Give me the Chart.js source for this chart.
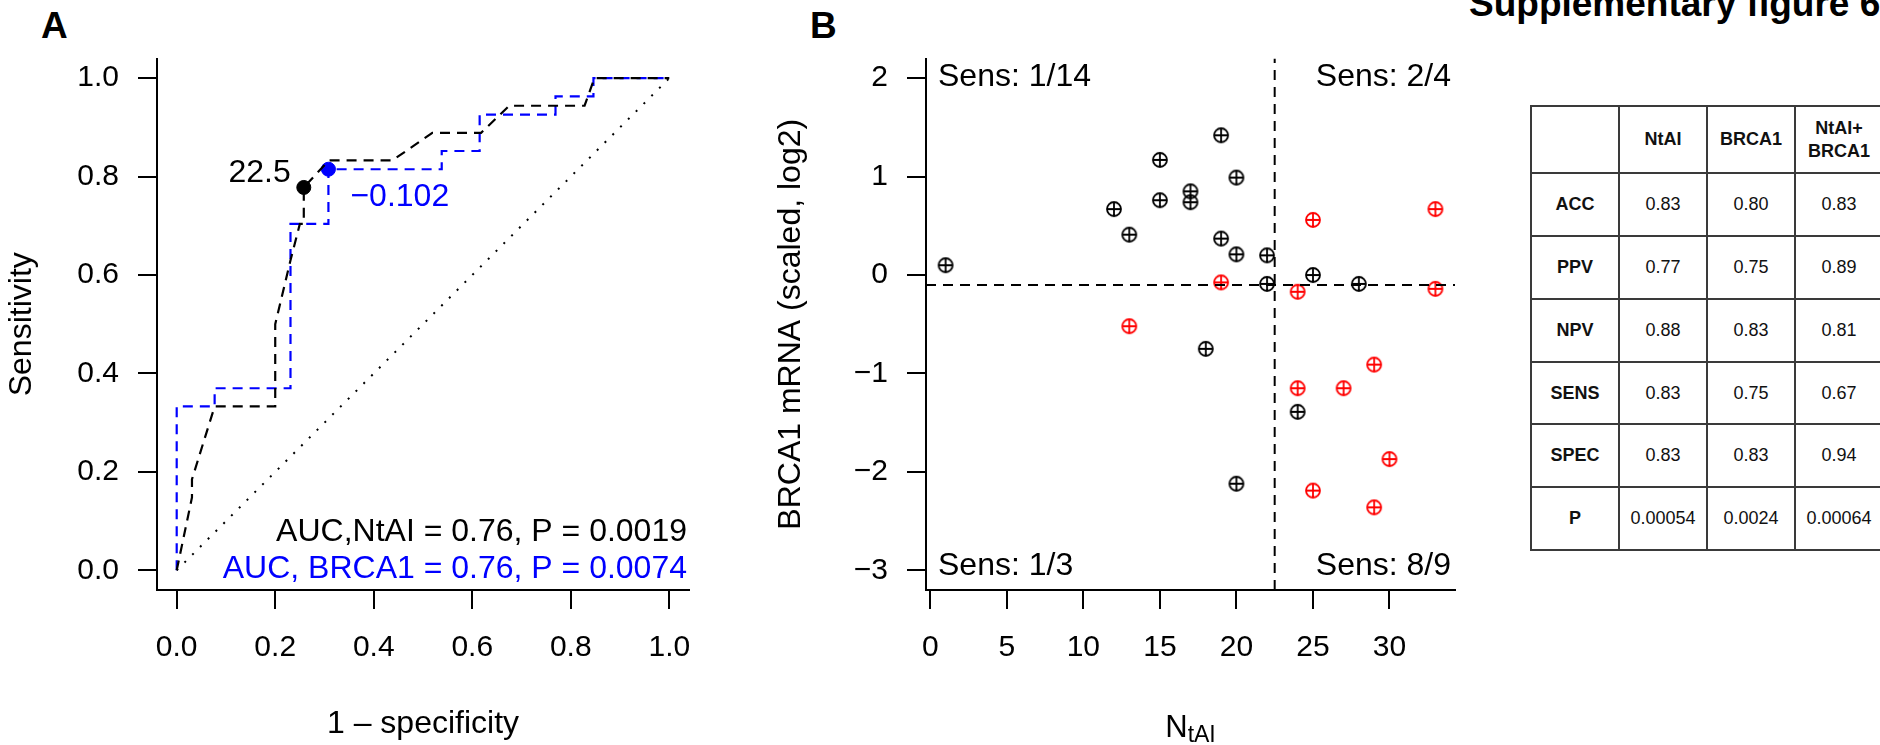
<!DOCTYPE html>
<html>
<head>
<meta charset="utf-8">
<script src="https://cdn.jsdelivr.net/npm/chart.js@4.4.1/dist/chart.umd.min.js"></script>
<style>
    html, body { margin: 0; padding: 0; background: #fff; width: 1880px; height: 745px; overflow: hidden; }
    body { position: relative; font-family: 'Liberation Sans', Arial, Helvetica, sans-serif; color: #000; }
    #rocCanvas { position: absolute; left: 0; top: 0; }
    #scatterCanvas { position: absolute; left: 740px; top: 0; }
    .panel { position: absolute; font-weight: bold; font-size: 37px; line-height: 37px; white-space: nowrap; }
    #stats { position: absolute; left: 1530px; top: 105px; border-collapse: collapse; table-layout: fixed; width: 354px; font-size: 18px; color: #111; }
    #stats td { border: 2px solid #3a3a3a; padding: 0; text-align: center; vertical-align: middle; line-height: 23px; }
    #stats tr { height: 62.86px; }
    #stats tr.top { height: 67px; }
    #stats td.head { font-weight: bold; }
</style>
</head>
<body>
<div class="panel" style="left:41px; top:7px;">A</div>
<div class="panel" style="left:810px; top:7px;">B</div>
<div class="panel" style="left:1469px; top:-14.6px;">Supplementary figure 6</div>
<canvas id="rocCanvas" width="720" height="745"></canvas>
<canvas id="scatterCanvas" width="760" height="745"></canvas>
<table id="stats"></table>
<script>
// Panel A: ROC curves (x = 1 - specificity, y = sensitivity)
const rocFprNtai = [0, 0.031, 0.031, 0.077, 0.2, 0.2, 0.231, 0.25, 0.258, 0.258, 0.309, 0.438, 0.519, 0.618, 0.675, 0.828, 0.848, 1.0];
const rocTprNtai = [0, 0.148, 0.185, 0.333, 0.333, 0.5, 0.63, 0.704, 0.704, 0.778, 0.833, 0.833, 0.889, 0.889, 0.944, 0.944, 1.0, 1.0];
const rocFprBrca1 = [0, 0, 0.077, 0.077, 0.231, 0.231, 0.308, 0.308, 0.538, 0.538, 0.615, 0.615, 0.769, 0.769, 0.846, 0.846, 1.0];
const rocTprBrca1 = [0, 0.333, 0.333, 0.370, 0.370, 0.704, 0.704, 0.815, 0.815, 0.852, 0.852, 0.926, 0.926, 0.963, 0.963, 1.0, 1.0];
const bestNtai = [0.258, 0.778];
const bestBrca1 = [0.308, 0.815];
const cutLabels = ['22.5', '\u22120.102'];
const aucLabels = ['AUC,NtAI = 0.76, P = 0.0019', 'AUC, BRCA1 = 0.76, P = 0.0074'];
const rocTicks = [0, 0.2, 0.4, 0.6, 0.8, 1.0];

// Panel B: NtAI vs BRCA1 mRNA
const blackNtai = [1, 12, 13, 15, 15, 17, 17, 18, 19, 19, 20, 20, 20, 22, 22, 24, 25, 28];
const blackBrca1 = [0.10, 0.67, 0.41, 1.17, 0.76, 0.85, 0.74, -0.75, 1.42, 0.37, 0.99, 0.21, -2.12, 0.20, -0.09, -1.39, 0.00, -0.09];
const redNtai = [13, 19, 24, 24, 25, 25, 27, 29, 29, 30, 33, 33];
const redBrca1 = [-0.52, -0.075, -0.17, -1.15, 0.56, -2.19, -1.15, -0.91, -2.36, -1.87, 0.67, -0.14];
const ntaiCut = 22.5;
const brcaCut = -0.102;
const quadLabels = ['Sens: 1/14', 'Sens: 2/4', 'Sens: 1/3', 'Sens: 8/9'];
const ntaiTicks = [0, 5, 10, 15, 20, 25, 30];
const brcaTicks = [-3, -2, -1, 0, 1, 2];

// Table
const tableHeader = ['', 'NtAI', 'BRCA1', 'NtAI+<br>BRCA1'];
const rowNames = ['ACC', 'PPV', 'NPV', 'SENS', 'SPEC', 'P'];
const colNtai = ['0.83', '0.77', '0.88', '0.83', '0.83', '0.00054'];
const colBrca1 = ['0.80', '0.75', '0.83', '0.75', '0.83', '0.0024'];
const colBoth = ['0.83', '0.89', '0.81', '0.67', '0.94', '0.00064'];

const fontFamily = "'Liberation Sans', Arial, Helvetica, sans-serif";
const labelFont = '32px ' + fontFamily;
const blue = '#0000ff';
const red = '#ff0000';
Chart.defaults.font.family = fontFamily;
Chart.defaults.color = '#000';

function toPoints(xs, ys) {
    return xs.map((v, i) => ({ x: v, y: ys[i] }));
}

function minus(v) {
    return v < 0 ? '\u2212' + Math.abs(v) : String(v);
}

// R style: range extended by 4% each side
function rLim(values) {
    const lo = Math.min(...values);
    const hi = Math.max(...values);
    const pad = (hi - lo) * 0.04;
    return [lo - pad, hi + pad];
}

function axis(lim, ticks, fmt, fitSize, isX, title, titlePad) {
    return {
        type: 'linear',
        min: lim[0],
        max: lim[1],
        afterBuildTicks: (s) => {
            s.ticks = ticks.map((v) => ({ value: v }));
        },
        afterFit: (s) => {
            if (isX) {
                s.height = fitSize;
            } else {
                s.width = fitSize;
            }
        },
        ticks: {
            font: { size: 30 },
            color: '#000',
            padding: isX ? 20.6 : 19,
            maxRotation: 0,
            autoSkip: false,
            callback: fmt,
        },
        grid: {
            display: true,
            drawOnChartArea: false,
            drawTicks: true,
            tickLength: 19,
            lineWidth: 2,
            color: '#000',
        },
        border: { display: true, color: '#000', width: 2 },
        title: {
            display: !!title,
            text: title || '',
            font: { size: 32 },
            color: '#000',
            padding: titlePad,
        },
    };
}

function makeMarker(color) {
    const c = document.createElement('canvas');
    c.width = 20;
    c.height = 20;
    const g = c.getContext('2d');
    g.strokeStyle = color;
    g.lineWidth = 1.8;
    g.beginPath();
    g.arc(10, 10, 7, 0, Math.PI * 2);
    g.moveTo(3, 10);
    g.lineTo(17, 10);
    g.moveTo(10, 3);
    g.lineTo(10, 17);
    g.stroke();
    return c;
}

const rocText = {
    id: 'rocText',
    afterDatasetsDraw(chart) {
        const { ctx, chartArea, scales: { x, y } } = chart;
        ctx.save();
        ctx.font = labelFont;
        ctx.textBaseline = 'alphabetic';
        ctx.fillStyle = '#000';
        ctx.textAlign = 'right';
        ctx.fillText(cutLabels[0], x.getPixelForValue(bestNtai[0]) - 13, y.getPixelForValue(bestNtai[1]) - 5.6);
        ctx.fillStyle = blue;
        ctx.textAlign = 'left';
        ctx.fillText(cutLabels[1], x.getPixelForValue(bestBrca1[0]) + 22, y.getPixelForValue(bestBrca1[1]) + 37);
        ctx.textAlign = 'right';
        ctx.fillStyle = '#000';
        ctx.fillText(aucLabels[0], chartArea.right - 2, chartArea.bottom - 49.3);
        ctx.fillStyle = blue;
        ctx.fillText(aucLabels[1], chartArea.right - 2, chartArea.bottom - 11.7);
        ctx.restore();
    },
};

new Chart(document.getElementById('rocCanvas'), {
    type: 'scatter',
    data: {
        datasets: [
            {
                data: toPoints([0, 1], [0, 1]),
                showLine: true,
                borderColor: '#000',
                borderWidth: 2,
                borderDash: [2, 9],
                pointRadius: 0,
            },
            {
                data: toPoints(rocFprNtai, rocTprNtai),
                showLine: true,
                borderColor: '#000',
                borderWidth: 2.2,
                borderDash: [10, 7],
                pointRadius: 0,
            },
            {
                data: toPoints(rocFprBrca1, rocTprBrca1),
                showLine: true,
                borderColor: blue,
                borderWidth: 2.2,
                borderDash: [10, 7],
                pointRadius: 0,
            },
            {
                data: [{ x: bestNtai[0], y: bestNtai[1] }],
                pointRadius: 7,
                pointBackgroundColor: '#000',
                pointBorderColor: '#000',
            },
            {
                data: [{ x: bestBrca1[0], y: bestBrca1[1] }],
                pointRadius: 7,
                pointBackgroundColor: blue,
                pointBorderColor: blue,
            },
        ],
    },
    options: {
        responsive: false,
        animation: false,
        devicePixelRatio: 1,
        layout: { padding: { left: 0, top: 58.5, right: 31, bottom: 0 } },
        plugins: { legend: { display: false }, tooltip: { enabled: false } },
        scales: {
            x: axis(rLim([0, 1]), rocTicks, (v) => v.toFixed(1), 155, true, '1 \u2013 specificity', { top: 0, bottom: 1.9 }),
            y: axis(rLim([0, 1]), rocTicks, (v) => v.toFixed(1), 157, false, 'Sensitivity', { top: 2.5, bottom: 0 }),
        },
    },
    plugins: [rocText],
});

const scatterText = {
    id: 'scatterText',
    afterDraw(chart) {
        const { ctx, chartArea } = chart;
        ctx.save();
        ctx.fillStyle = '#000';
        ctx.font = labelFont;
        ctx.textBaseline = 'alphabetic';
        ctx.textAlign = 'left';
        ctx.fillText(quadLabels[0], chartArea.left + 12, chartArea.top + 27.5);
        ctx.fillText(quadLabels[2], chartArea.left + 12, chartArea.bottom - 15);
        ctx.textAlign = 'right';
        ctx.fillText(quadLabels[1], chartArea.right - 4, chartArea.top + 27.5);
        ctx.fillText(quadLabels[3], chartArea.right - 4, chartArea.bottom - 15);

        // x axis title with subscript
        const mid = (chartArea.left + chartArea.right) / 2;
        ctx.font = '31px ' + fontFamily;
        const wN = ctx.measureText('N').width;
        ctx.font = '23px ' + fontFamily;
        const wSub = ctx.measureText('tAI').width;
        const x0 = mid - (wN + wSub) / 2;
        ctx.textAlign = 'left';
        ctx.font = '31px ' + fontFamily;
        ctx.fillText('N', x0, 736.7);
        ctx.font = '23px ' + fontFamily;
        ctx.fillText('tAI', x0 + wN, 742);
        ctx.restore();
    },
};

const xLimB = rLim(blackNtai.concat(redNtai));
const yLimB = rLim(brcaTicks);

new Chart(document.getElementById('scatterCanvas'), {
    type: 'scatter',
    data: {
        datasets: [
            {
                data: toPoints([ntaiCut, ntaiCut], yLimB),
                showLine: true,
                borderColor: '#000',
                borderWidth: 2,
                borderDash: [10, 7],
                pointRadius: 0,
            },
            {
                data: toPoints(xLimB, [brcaCut, brcaCut]),
                showLine: true,
                borderColor: '#000',
                borderWidth: 2,
                borderDash: [10, 7],
                pointRadius: 0,
            },
            {
                data: toPoints(blackNtai, blackBrca1),
                pointStyle: makeMarker('#000'),
                pointRadius: 8,
            },
            {
                data: toPoints(redNtai, redBrca1),
                pointStyle: makeMarker(red),
                pointRadius: 8,
            },
        ],
    },
    options: {
        responsive: false,
        animation: false,
        devicePixelRatio: 1,
        layout: { padding: { left: 0, top: 58.5, right: 45, bottom: 0 } },
        plugins: { legend: { display: false }, tooltip: { enabled: false } },
        scales: {
            x: axis(xLimB, ntaiTicks, (v) => String(v), 155, true, null, 0),
            y: axis(yLimB, brcaTicks, minus, 186, false, 'BRCA1 mRNA (scaled, log2)', { top: 31.8, bottom: 0 }),
        },
    },
    plugins: [scatterText],
});

// Build the table
let html = '<colgroup><col style="width:88px"><col style="width:88px"><col style="width:88px"><col style="width:88px"></colgroup>';
html += '<tr class="top">' + tableHeader.map((h) => '<td class="head">' + h + '</td>').join('') + '</tr>';
rowNames.forEach((name, i) => {
    html += '<tr><td class="head">' + name + '</td><td>' + colNtai[i] + '</td><td>' + colBrca1[i] + '</td><td>' + colBoth[i] + '</td></tr>';
});
document.getElementById('stats').innerHTML = html;
</script>
</body>
</html>
